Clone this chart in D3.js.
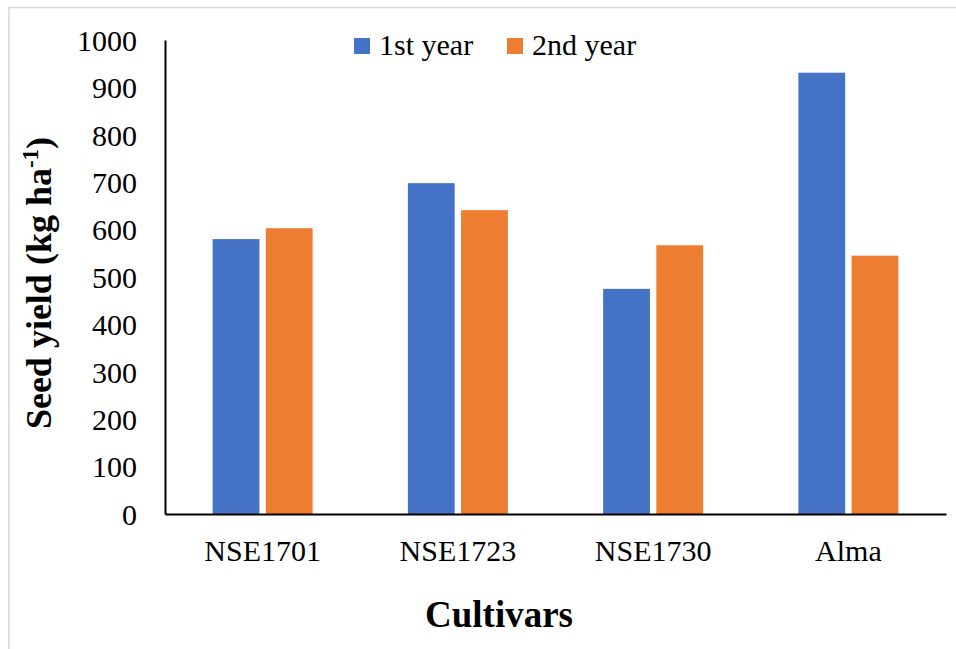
<!DOCTYPE html>
<html>
<head>
<meta charset="utf-8">
<script src="https://cdn.jsdelivr.net/npm/d3@7"></script>
<style>
  html, body { margin: 0; padding: 0; background: #fff; }
  svg { display: block; }
  text { font-family: "Liberation Serif", Tinos, "DejaVu Serif", "Noto Serif", serif; fill: #000; }
</style>
</head>
<body>
<svg id="chart" width="956" height="649"></svg>
<script>
// Seed yield by cultivar over two seasons
const cultivars = ["NSE1701", "NSE1723", "NSE1730", "Alma"];
const seriesNames = ["1st year", "2nd year"];
const firstYear = [580, 698, 475, 931];
const secondYear = [603, 641, 567, 545];
const yTicks = [0, 100, 200, 300, 400, 500, 600, 700, 800, 900, 1000];
const colors = ["#4472C4", "#ED7D31"];

const FONT = '"Liberation Serif", Tinos, "DejaVu Serif", "Noto Serif", serif';
const svg = d3.select("#chart");
const W = 956, H = 649;
const plot = { left: 165, right: 946, top: 40, bottom: 514 };

// outer frame
svg.append("rect")
  .attr("x", 9).attr("y", 7.5)
  .attr("width", W + 20).attr("height", H + 20)
  .attr("fill", "#fff").attr("stroke", "#d9d9d9").attr("stroke-width", 1.6);

const x = d3.scaleBand().domain(cultivars).range([plot.left, plot.right]);
const xs = d3.scaleBand().domain(seriesNames)
  .range([x.bandwidth() / 2 - 50, x.bandwidth() / 2 + 50]).paddingInner(0.12);
const y = d3.scaleLinear().domain([0, 1000]).range([plot.bottom, plot.top]);

const rows = cultivars.map((c, i) => ({ c, vals: [firstYear[i], secondYear[i]] }));

// bars
const g = svg.append("g");
rows.forEach(r => {
  r.vals.forEach((v, j) => {
    g.append("rect")
      .attr("x", x(r.c) + xs(seriesNames[j]))
      .attr("y", y(v))
      .attr("width", xs.bandwidth())
      .attr("height", y(0) - y(v))
      .attr("fill", colors[j]);
  });
});

// y axis
const yAxis = d3.axisLeft(y).tickValues(yTicks).tickSize(0).tickPadding(28)
  .tickFormat(d3.format("d"));
const yg = svg.append("g").attr("transform", `translate(${plot.left},0)`).call(yAxis)
  .attr("font-family", FONT);
yg.select(".domain").attr("stroke", "#000").attr("stroke-width", 2);
yg.selectAll("text").attr("font-size", 30).style("font-family", FONT).attr("dy", "0.34em");

// x axis
const xAxis = d3.axisBottom(x).tickSize(0).tickPadding(26);
const xg = svg.append("g").attr("transform", `translate(0,${plot.bottom})`).call(xAxis)
  .attr("font-family", FONT);
xg.select(".domain").attr("stroke", "#000").attr("stroke-width", 2);
xg.selectAll("text").attr("font-size", 30).style("font-family", FONT);

// axis titles
svg.append("text")
  .attr("x", 499).attr("y", 627)
  .attr("text-anchor", "middle")
  .attr("font-size", 37).attr("font-weight", "bold")
  .style("font-family", FONT)
  .text("Cultivars");

const yt = svg.append("text")
  .attr("transform", "translate(51,283) rotate(-90)")
  .attr("text-anchor", "middle")
  .attr("font-size", 36).attr("font-weight", "bold")
  .style("font-family", FONT);
yt.append("tspan").text("Seed yield (kg ha");
yt.append("tspan").attr("font-size", 23).attr("dy", -13).text("-1");
yt.append("tspan").attr("dy", 13).text(")");

// legend
const legendX = [354, 507];
seriesNames.forEach((s, j) => {
  svg.append("rect")
    .attr("x", legendX[j]).attr("y", 38)
    .attr("width", 16).attr("height", 16)
    .attr("fill", colors[j]);
  svg.append("text")
    .attr("x", legendX[j] + 25).attr("y", 55)
    .attr("font-size", 30)
    .style("font-family", FONT)
    .text(s);
});
</script>
</body>
</html>
